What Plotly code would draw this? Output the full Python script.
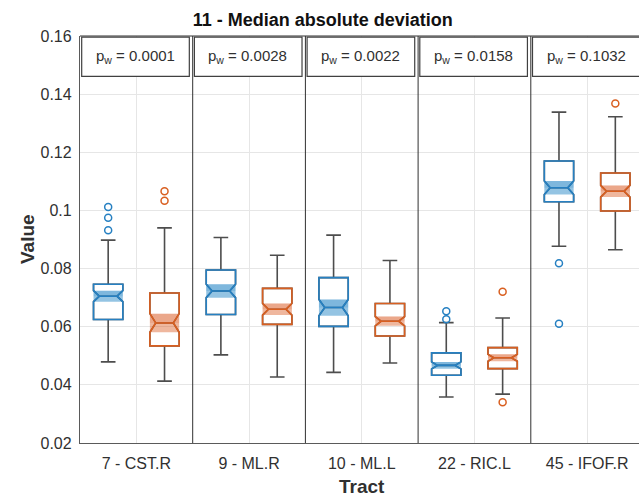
import plotly.graph_objects as go

# ---------------- data ----------------
categories = ["7 - CST.R", "9 - ML.R", "10 - ML.L", "22 - RIC.L", "45 - IFOF.R"]
p_w = ["0.0001", "0.0028", "0.0022", "0.0158", "0.1032"]

blue_q1 = [0.0625, 0.0642, 0.0601, 0.0433, 0.1030]
blue_med = [0.0705, 0.0723, 0.0666, 0.0467, 0.1078]
blue_q3 = [0.0746, 0.0795, 0.0769, 0.0510, 0.1170]
blue_lo = [0.0479, 0.0503, 0.0443, 0.0358, 0.0877]
blue_hi = [0.0898, 0.0907, 0.0915, 0.0614, 0.1338]
blue_notch = [0.0019, 0.0023, 0.0028, 0.0012, 0.0023]
blue_out_group = [1, 1, 1, 4, 4, 5, 5]
blue_out_val = [0.1012, 0.0975, 0.0932, 0.0653, 0.0626, 0.0818, 0.0610]

orange_q1 = [0.0534, 0.0608, 0.0568, 0.0456, 0.0998]
orange_med = [0.0613, 0.0660, 0.0619, 0.0493, 0.1066]
orange_q3 = [0.0716, 0.0732, 0.0680, 0.0528, 0.1129]
orange_lo = [0.0413, 0.0427, 0.0475, 0.0368, 0.0865]
orange_hi = [0.0940, 0.0846, 0.0828, 0.0630, 0.1322]
orange_notch = [0.0032, 0.0020, 0.0016, 0.0012, 0.0020]
orange_out_group = [1, 1, 4, 4, 5]
orange_out_val = [0.1066, 0.1033, 0.0720, 0.0340, 0.1368]

y_ticks = [0.02, 0.04, 0.06, 0.08, 0.10, 0.12, 0.14, 0.16]
y_ticktext = ["0.02", "0.04", "0.06", "0.08", "0.1", "0.12", "0.14", "0.16"]

# ---------------- style ----------------
FONT = "Liberation Sans, Arial, Helvetica, sans-serif"
TXT = "#303030"
BLUE = "#2680c2"
ORANGE = "#d95f20"
BLUE_SH = "rgba(0,114,189,0.42)"
ORANGE_SH = "rgba(217,83,25,0.42)"
BLUE_SH2 = "rgba(0,114,189,0.15)"
ORANGE_SH2 = "rgba(217,83,25,0.15)"
WHISK = "#4d4d4d"
OFFSET = 0.25
BOXW = 0.26
NOTCHW = 0.2

n = len(categories)
cat_pos = list(range(1, n + 1))

fig = go.Figure()


def add_group(offset, q1, med, q3, lo, hi, notch, col, sh, sh2, og, ov):
    xs = [p + offset for p in cat_pos]
    nlo = [m - s for m, s in zip(med, notch)]
    nhi = [m + s for m, s in zip(med, notch)]
    # whiskers + caps (gray)
    fig.add_trace(go.Box(
        x=xs, q1=q1, median=med, q3=q3, lowerfence=lo, upperfence=hi,
        notched=True, notchspan=notch, notchwidth=NOTCHW,
        width=BOXW, whiskerwidth=0.5,
        line=dict(color=WHISK, width=1.6), fillcolor="rgba(0,0,0,0)",
        boxpoints=False, hoverinfo="skip", showlegend=False))
    # notch shading band
    fig.add_trace(go.Box(
        x=xs, q1=nlo, median=med, q3=nhi, lowerfence=nlo, upperfence=nhi,
        width=BOXW, whiskerwidth=0,
        line=dict(color="rgba(0,0,0,0)", width=0), fillcolor=sh,
        boxpoints=False, hoverinfo="skip", showlegend=False))
    fig.add_trace(go.Box(
        x=xs, q1=med, median=med, q3=nhi, lowerfence=med, upperfence=nhi,
        width=BOXW, whiskerwidth=0,
        line=dict(color="rgba(0,0,0,0)", width=0), fillcolor=sh2,
        boxpoints=False, hoverinfo="skip", showlegend=False))
    # colored notched box outline
    fig.add_trace(go.Box(
        x=xs, q1=q1, median=med, q3=q3, lowerfence=q1, upperfence=q3,
        notched=True, notchspan=notch, notchwidth=NOTCHW,
        width=BOXW, whiskerwidth=0,
        line=dict(color=col, width=1.6), fillcolor="rgba(0,0,0,0)",
        boxpoints=False, hoverinfo="skip", showlegend=False))
    # outliers
    fig.add_trace(go.Scatter(
        x=[g + offset for g in og], y=ov, mode="markers",
        marker=dict(symbol="circle-open", size=7, color=col, line=dict(width=1.5, color=col)),
        hoverinfo="skip", showlegend=False))


add_group(-OFFSET, blue_q1, blue_med, blue_q3, blue_lo, blue_hi, blue_notch,
          BLUE, BLUE_SH, BLUE_SH2, blue_out_group, blue_out_val)
add_group(OFFSET, orange_q1, orange_med, orange_q3, orange_lo, orange_hi, orange_notch,
          ORANGE, ORANGE_SH, ORANGE_SH2, orange_out_group, orange_out_val)

shapes = []
# group dividers
for p in cat_pos:
    shapes.append(dict(type="line", xref="x", yref="paper", x0=p + 0.5, x1=p + 0.5,
                       y0=0, y1=1, line=dict(color="#303030", width=1)))
# top border
shapes.append(dict(type="line", xref="paper", yref="paper", x0=0, x1=1, y0=1, y1=1,
                   line=dict(color="#303030", width=1)))
annotations = []
for p, pv in zip(cat_pos, p_w):
    shapes.append(dict(type="rect", xref="x", yref="y", x0=p - 0.5 + 0.015, x1=p + 0.5 - 0.03,
                       y0=0.1461, y1=0.1596, line=dict(color="#404040", width=1.2),
                       fillcolor="white"))
    annotations.append(dict(xref="x", yref="y", x=p - 0.01, y=0.1530,
                            text="p<sub>w</sub> = " + pv, showarrow=False,
                            font=dict(family=FONT, size=15, color=TXT)))

annotations.append(dict(xref="paper", yref="paper", x=0.505, y=-0.108, yanchor="middle",
                        text="<b>Tract</b>", showarrow=False,
                        font=dict(family=FONT, size=19, color=TXT)))
annotations.append(dict(xref="paper", yref="paper", x=0.0, xshift=-40, xanchor="right",
                        y=0.5, text="<b>Value</b>", textangle=-90, showarrow=False,
                        font=dict(family=FONT, size=19, color=TXT)))

fig.update_layout(
    width=639, height=502,
    margin=dict(l=80, r=0, t=36, b=59),
    paper_bgcolor="white", plot_bgcolor="white",
    boxmode="overlay",
    shapes=shapes, annotations=annotations,
    title=dict(text="<b>11 - Median absolute deviation</b>", x=0.505, xanchor="center",
               y=1 - 20 / 502, yref="container", yanchor="middle",
               font=dict(family=FONT, size=18, color="#111111")),
    font=dict(family=FONT, color=TXT),
    xaxis=dict(range=[0.5, 5.46], tickvals=cat_pos, ticktext=categories,
               showgrid=True, gridcolor="#e6e6e6", gridwidth=1, zeroline=False,
               showline=True, linecolor="#5a5a5a", linewidth=1.3, ticks="",
               ticklabelstandoff=6,
               tickfont=dict(family=FONT, size=16, color=TXT)),
    yaxis=dict(range=[0.02, 0.16], tickvals=y_ticks, ticktext=y_ticktext,
               showgrid=True, gridcolor="#e6e6e6", gridwidth=1, zeroline=False,
               showline=True, linecolor="#5a5a5a", linewidth=1.3, ticks="",
               ticklabelstandoff=4,
               tickfont=dict(family=FONT, size=16, color=TXT)),
)

fig.write_html("out.html")
